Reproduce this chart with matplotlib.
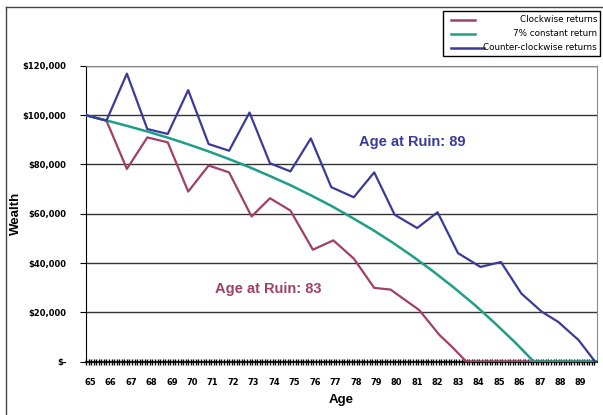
import numpy as np
import matplotlib.pyplot as plt
from matplotlib.lines import Line2D
from matplotlib.patches import Rectangle
from matplotlib.ticker import FuncFormatter

# Werte (in $1000)
red_age = [65, 66, 67, 68, 69, 70, 71, 72, 73.1, 74, 75, 76.1, 77.1, 78.1, 79.1, 79.9,
           81.3, 82.3, 82.9, 83.6, 90]
red_val = [100, 97.8, 78.2, 91.0, 89.0, 69.0, 79.6, 76.8, 58.9, 66.3, 61.3, 45.4, 49.2,
           41.8, 29.9, 29.2, 20.9, 10.7, 6.0, 0, 0]

green_age = [65, 66, 67, 68, 69, 70, 71, 72, 73, 74, 75, 76, 77, 78, 79, 80, 81, 82,
             83, 84, 85, 86, 86.9, 90]
green_val = [100, 97.9, 95.7, 93.4, 90.9, 88.2, 85.3, 82.2, 78.9, 75.3, 71.6, 67.5,
             63.2, 58.5, 53.6, 48.3, 42.6, 36.5, 30.0, 23.1, 15.6, 7.7, 0, 0]

blue_age = [65, 66, 67, 68, 69, 70, 71, 72, 73, 74, 75, 76, 77, 78.1, 79.1, 80.1, 81.2,
            82.2, 83.2, 84.3, 85.3, 86.3, 87.3, 88.1, 89.1, 89.9]
blue_val = [100, 97.8, 116.9, 94.4, 92.4, 110.2, 88.3, 85.6, 101.1, 80.5, 77.2, 90.6,
            70.8, 66.7, 76.8, 59.6, 54.2, 60.6, 44.0, 38.4, 40.4, 27.6, 20.2, 16.1, 8.7, 0]

ages = np.arange(65, 90)
y_ticks = [0, 20000, 40000, 60000, 80000, 100000, 120000]

c_red = "#A13F66"
c_green = "#1E9E86"
c_blue = "#3A3A98"
narrow = ["Liberation Sans Narrow", "DejaVu Sans"]
sans = ["Liberation Sans", "DejaVu Sans"]

fig = plt.figure(figsize=(6.03, 4.15), dpi=100)
ax = fig.add_axes([86/603, 1-361.5/415, 511/603, 295.5/415])

ax.plot(red_age, np.array(red_val)*1000, color=c_red, lw=1.6, zorder=3)
ax.plot(green_age, np.array(green_val)*1000, color=c_green, lw=1.8, zorder=4)
ax.plot(blue_age, np.array(blue_val)*1000, color=c_blue, lw=1.6, zorder=5)

ax.set_xlim(65, 90)
ax.set_ylim(0, 120000)
ax.set_yticks(y_ticks)
ax.yaxis.set_major_formatter(FuncFormatter(lambda v, p: "$-" if v == 0 else "${:,.0f}".format(v)))
ax.yaxis.grid(True, color="#333333", lw=1)
ax.set_axisbelow(True)

ax.set_xticks(ages + 0.2)
ax.set_xticklabels([str(a) for a in ages])
ax.set_xticks(np.arange(65, 90, 1/8), minor=True)
ax.tick_params(axis="x", which="major", length=0, pad=12)
ax.tick_params(axis="x", which="minor", direction="inout", length=5, width=1.0)
ax.tick_params(axis="y", length=4, width=0.8, pad=10)
for t in ax.get_xticklabels() + ax.get_yticklabels():
    t.set_family(narrow)
    t.set_fontweight("bold")
    t.set_fontsize(6)

ax.spines["left"].set_color("black")
ax.spines["bottom"].set_color("black")
ax.spines["bottom"].set_linewidth(1.2)
ax.spines["top"].set_color("#888888")
ax.spines["right"].set_color("#888888")

ax.set_xlabel("Age", fontsize=9.5, fontweight="bold", family=sans, labelpad=5)
ax.set_ylabel("Wealth", fontsize=9.5, fontweight="bold", family=sans)
ax.yaxis.set_label_coords(-64/511, 0.5)

ax.text(80.95, 89300, "Age at Ruin: 89", color=c_blue, fontsize=10.5, fontweight="bold",
        family=sans, ha="center", va="center")
ax.text(73.9, 29400, "Age at Ruin: 83", color=c_red, fontsize=10.5, fontweight="bold",
        family=sans, ha="center", va="center")

# Rahmen
fig.add_artist(Line2D([6/603, 6/603], [0, 1-7/415], color="#444444", lw=1))
fig.add_artist(Line2D([6/603, 1], [1-7/415, 1-7/415], color="#444444", lw=1))

# Legende
fig.add_artist(Rectangle((443/603, 1-56/415), 157/603, 45/415, facecolor="white",
                         edgecolor="black", lw=1, zorder=10))
labels = ["Clockwise returns", "7% constant return", "Counter-clockwise returns"]
colors = [c_red, c_green, c_blue]
for i, (lab, col) in enumerate(zip(labels, colors)):
    yy = 1 - (20 + i*14)/415
    x1 = 475/603 if i < 2 else 484/603
    fig.add_artist(Line2D([451/603, x1], [yy, yy], color=col, lw=1.8, zorder=11))
    fig.text(597/603, yy, lab, ha="right", va="center", fontsize=6.3,
             family=narrow, zorder=12)

fig.savefig("out.png", dpi=100)
